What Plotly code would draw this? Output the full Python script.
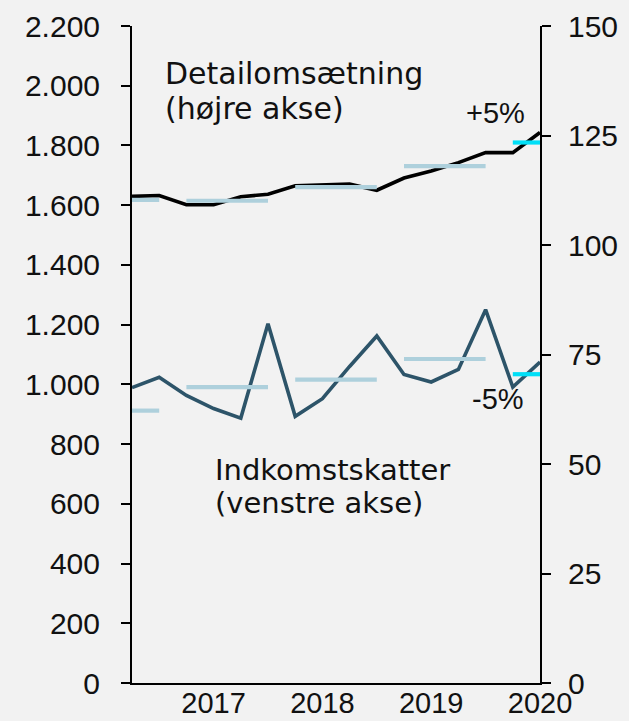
import plotly.graph_objects as go

# ---- data ----
quarters = ["2016K3", "2016K4",
            "2017K1", "2017K2", "2017K3", "2017K4",
            "2018K1", "2018K2", "2018K3", "2018K4",
            "2019K1", "2019K2", "2019K3", "2019K4",
            "2020K1", "2020K2"]
retail = [111.1, 111.3, 109.2, 109.2, 111.0, 111.6, 113.5, 113.6,
          113.9, 112.5, 115.3, 116.9, 118.8, 121.1, 121.1, 125.7]
income_tax = [989, 1024, 963, 919, 887, 1203, 893, 952,
              1060, 1162, 1033, 1008, 1050, 1250, 991, 1075]
years = ["2016", "2017", "2018", "2019", "2020"]
retail_avg = [110.3, 110.1, 113.2, 118.0, 123.4]
tax_avg = [912, 991, 1016, 1085, 1034]
year_ticks = ["2017", "2018", "2019", "2020"]
left_ticks = list(range(0, 2201, 200))
right_ticks = list(range(0, 151, 25))

BG = "#f2f2f2"
BLACK = "#000000"
DARKBLUE = "#2d5469"
LIGHTBLUE = "#aed0dc"
CYAN = "#00dff7"
TXT = "#111111"

x_idx = list(range(len(quarters)))

fig = go.Figure()

fig.add_trace(go.Scatter(x=x_idx, y=retail, mode="lines", yaxis="y2",
                         line=dict(color=BLACK, width=3.6), hoverinfo="skip"))
fig.add_trace(go.Scatter(x=x_idx, y=income_tax, mode="lines", yaxis="y",
                         line=dict(color=DARKBLUE, width=3.6), hoverinfo="skip"))

for yr, ra, ta in zip(years, retail_avg, tax_avg):
    idx = [i for i, q in enumerate(quarters) if q.startswith(yr)]
    xs = [idx[0], idx[-1]]
    col = CYAN if yr == years[-1] else LIGHTBLUE
    fig.add_trace(go.Scatter(x=xs, y=[ra, ra], mode="lines", yaxis="y2",
                             line=dict(color=col, width=4.2), hoverinfo="skip"))
    fig.add_trace(go.Scatter(x=xs, y=[ta, ta], mode="lines", yaxis="y",
                             line=dict(color=col, width=4.2), hoverinfo="skip"))

tick_pos = [quarters.index(y + "K2") for y in year_ticks]

NUMFONT = dict(family="Liberation Sans, Arial, sans-serif", size=30, color=TXT)
XFONT = dict(family="Liberation Sans, Arial, sans-serif", size=29, color=TXT)
ANNFONT30 = dict(family="DejaVu Sans, sans-serif", size=30, color=TXT)
ANNFONT29 = dict(family="DejaVu Sans, sans-serif", size=29, color=TXT)
PCTFONT = dict(family="Liberation Sans, Arial, sans-serif", size=29, color=TXT)

fig.update_layout(
    width=629, height=721,
    paper_bgcolor=BG, plot_bgcolor=BG,
    margin=dict(l=132, r=89, t=26, b=38),
    showlegend=False,
    separators=",.",
    xaxis=dict(range=[0, len(quarters) - 1], tickvals=tick_pos, ticktext=year_ticks,
               showgrid=False, zeroline=False, showline=True, linecolor=BLACK,
               linewidth=2, ticks="", tickfont=XFONT, ticklabelstandoff=-7,
               automargin=False),
    yaxis=dict(range=[0, 2200], tickvals=left_ticks, tickformat=",d",
               showgrid=False, zeroline=False, showline=True, linecolor=BLACK,
               linewidth=2, ticks="outside", ticklen=9, tickwidth=2, tickcolor=BLACK,
               tickfont=NUMFONT, ticklabelstandoff=15, automargin=False),
    yaxis2=dict(range=[0, 150], tickvals=right_ticks, overlaying="y", side="right",
                showgrid=False, zeroline=False, showline=True, linecolor=BLACK,
                linewidth=2, ticks="outside", ticklen=9, tickwidth=2, tickcolor=BLACK,
                tickfont=NUMFONT, ticklabelstandoff=11, automargin=False),
)

def ann(text, x, y, xanchor, font):
    fig.add_annotation(text=text, xref="paper", yref="paper", x=x, y=y,
                       xanchor=xanchor, yanchor="middle", showarrow=False, font=font)

ann("Detailomsætning", 0.075, 0.927, "left", ANNFONT30)
ann("(højre akse)", 0.075, 0.875, "left", ANNFONT30)
ann("Indkomstskatter", 0.198, 0.324, "left", ANNFONT29)
ann("(venstre akse)", 0.198, 0.274, "left", ANNFONT29)
ann("+5%", 0.968, 0.868, "right", PCTFONT)
ann("-5%", 0.965, 0.432, "right", PCTFONT)

fig.write_html(
    "out.html",
    config={"displayModeBar": False, "staticPlot": True},
    post_script="document.body.style.margin='0';document.body.style.background='#f2f2f2';document.body.style.overflow='hidden';",
)
